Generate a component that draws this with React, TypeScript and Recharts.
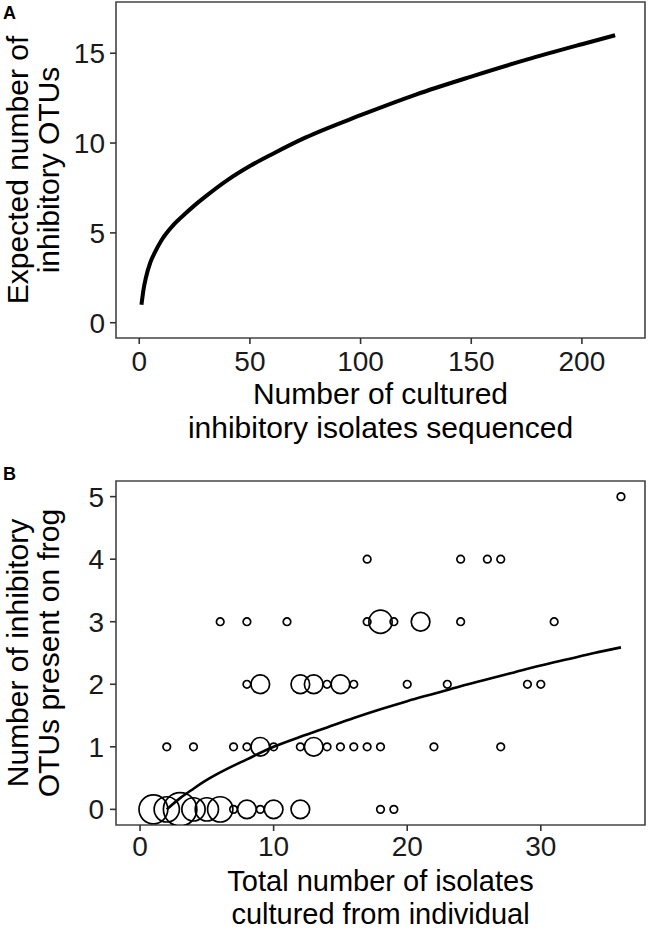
import React from 'react';
import { ComposedChart, Line, Scatter, XAxis, YAxis, ZAxis, ReferenceArea } from 'recharts';

const FONT = '"Liberation Sans", Arial, Helvetica, sans-serif';

// ---- Panel A: rarefaction curve ----
const isolatesSequenced = [1, 2, 3, 5, 7, 10, 15, 20, 25, 30, 40, 50, 60, 75, 100, 125, 150, 175, 200, 215];
const expectedOTUs = [1.0, 1.9, 2.5, 3.35, 3.9, 4.58, 5.38, 5.98, 6.53, 7.03, 7.95, 8.72, 9.38, 10.3, 11.55, 12.7, 13.7, 14.64, 15.5, 16.0];
const aXTicks = [0, 50, 100, 150, 200];
const aYTicks = [0, 5, 10, 15];
const aXDomain = [-10.5, 228.5];
const aYDomain = [-0.85, 17.85];

// ---- Panel B: per-frog points ----
const isolatesCultured = [
  36,
  17, 24, 26, 27,
  6, 8, 11, 17, 18, 19, 21, 24, 31,
  8, 9, 12, 13, 14, 15, 16, 20, 23, 29, 30,
  2, 4, 7, 8, 9, 10, 12, 13, 14, 15, 16, 17, 18, 22, 27,
  1, 2, 3, 4, 5, 6, 7, 8, 9, 10, 12, 18, 19,
];
const otusPresent = [
  5,
  4, 4, 4, 4,
  3, 3, 3, 3, 3, 3, 3, 3, 3,
  2, 2, 2, 2, 2, 2, 2, 2, 2, 2, 2,
  1, 1, 1, 1, 1, 1, 1, 1, 1, 1, 1, 1, 1, 1, 1,
  0, 0, 0, 0, 0, 0, 0, 0, 0, 0, 0, 0, 0,
];
const frogCount = [
  1,
  1, 1, 1, 1,
  1, 1, 1, 1, 6, 1, 4, 1, 1,
  1, 4, 4, 4, 1, 4, 1, 1, 1, 1, 1,
  1, 1, 1, 1, 4, 1, 1, 4, 1, 1, 1, 1, 1, 1, 1,
  9, 7, 12, 6, 6, 7, 1, 4, 1, 4, 4, 1, 1,
];
const fitIsolates = [2, 3, 4, 5, 6, 8, 10, 12, 14, 16, 18, 20, 22, 24, 26, 28, 30, 32, 34, 36];
const fitOTUs = [0, 0.18, 0.33, 0.47, 0.59, 0.8, 1.0, 1.16, 1.31, 1.46, 1.6, 1.73, 1.85, 1.97, 2.08, 2.19, 2.3, 2.4, 2.5, 2.59];
const bXTicks = [0, 10, 20, 30];
const bYTicks = [0, 1, 2, 3, 4, 5];
const bXDomain = [-1.8, 37.8];
const bYDomain = [-0.25, 5.25];

const curveA = isolatesSequenced.map((x, i) => ({ x, y: expectedOTUs[i] }));
const pointsB = isolatesCultured.map((x, i) => ({ x, y: otusPresent[i], n: frogCount[i] }));
const curveB = fitIsolates.map((x, i) => ({ x, y: fitOTUs[i] }));

const tickStyle = { fill: '#1a1a1a', fontSize: 28, fontFamily: FONT };
const tickLine = { stroke: '#333', strokeWidth: 1.6 };

const XTitle = (props: any) => {
  const vb = props.viewBox || {};
  const cx = vb.x + vb.width / 2;
  return (
    <text textAnchor="middle" fill="#000" fontSize={props.fontSize || 30} fontFamily={FONT}>
      {props.lines.map((l: string, i: number) => (
        <tspan key={i} x={cx} y={vb.y + props.offsets[i]}>{l}</tspan>
      ))}
    </text>
  );
};

const YTitle = (props: any) => {
  const vb = props.viewBox || {};
  const cy = vb.y + vb.height / 2;
  return (
    <g>
      {props.lines.map((l: string, i: number) => {
        const x = vb.x + props.offsets[i];
        return (
          <text key={i} x={x} y={cy} transform={`rotate(-90, ${x}, ${cy})`} textAnchor="middle" fill="#000" fontSize={30} fontFamily={FONT}>
            {l}
          </text>
        );
      })}
      <text x={vb.x + 3} y={props.letterY} fontSize={18} fontWeight="bold" fontFamily={FONT} fill="#000">{props.letter}</text>
    </g>
  );
};

export default function App() {
  return (
    <div style={{ position: 'absolute', left: 0, top: 0, width: 649, height: 931, background: '#fff' }}>
      <div style={{ position: 'absolute', left: 0, top: 0 }}>
        <ComposedChart width={649} height={460} data={curveA} margin={{ top: 2, right: 4, left: 0, bottom: 0 }}>
          <XAxis
            dataKey="x"
            type="number"
            domain={aXDomain}
            ticks={aXTicks}
            allowDataOverflow
            axisLine={false}
            tickLine={tickLine}
            tickSize={6}
            tickMargin={7}
            tick={tickStyle}
            height={122}
            label={{ content: (p: any) => <XTitle viewBox={p.viewBox} lines={['Number of cultured', 'inhibitory isolates sequenced']} offsets={[66, 100]} /> }}
          />
          <YAxis
            dataKey="y"
            type="number"
            domain={aYDomain}
            ticks={aYTicks}
            allowDataOverflow
            axisLine={false}
            tickLine={tickLine}
            tickSize={6}
            tickMargin={5}
            tick={tickStyle}
            width={116}
            label={{ content: (p: any) => <YTitle viewBox={p.viewBox} lines={['Expected number of', 'inhibitory OTUs']} offsets={[28, 59]} letter="A" letterY={19} /> }}
          />
          <Line dataKey="y" type="monotone" stroke="#000" strokeWidth={4} dot={false} isAnimationActive={false} />
          <ReferenceArea x1={aXDomain[0]} x2={aXDomain[1]} y1={aYDomain[0]} y2={aYDomain[1]} fill="none" stroke="#444" strokeWidth={1.6} ifOverflow="visible" />
        </ComposedChart>
      </div>
      <div style={{ position: 'absolute', left: 0, top: 460 }}>
        <ComposedChart width={649} height={471} margin={{ top: 21, right: 4, left: 0, bottom: 0 }}>
          <XAxis
            dataKey="x"
            type="number"
            domain={bXDomain}
            ticks={bXTicks}
            allowDataOverflow
            axisLine={false}
            tickLine={tickLine}
            tickSize={6}
            tickMargin={5}
            tick={tickStyle}
            height={106}
            label={{ content: (p: any) => <XTitle viewBox={p.viewBox} fontSize={29} lines={['Total number of isolates', 'cultured from individual']} offsets={[66, 99]} /> }}
          />
          <YAxis
            dataKey="y"
            type="number"
            domain={bYDomain}
            ticks={bYTicks}
            allowDataOverflow
            axisLine={false}
            tickLine={tickLine}
            tickSize={6}
            tickMargin={6}
            tick={tickStyle}
            width={116}
            label={{ content: (p: any) => <YTitle viewBox={p.viewBox} lines={['Number of inhibitory', 'OTUs present on frog']} offsets={[28, 59]} letter="B" letterY={20} /> }}
          />
          <ZAxis dataKey="n" type="number" domain={[1, 12]} range={[45, 880]} />
          <Scatter data={pointsB} fill="none" stroke="#000" strokeWidth={1.7} isAnimationActive={false} />
          <Line data={curveB} dataKey="y" type="monotone" stroke="#000" strokeWidth={2.6} dot={false} isAnimationActive={false} />
          <ReferenceArea x1={bXDomain[0]} x2={bXDomain[1]} y1={bYDomain[0]} y2={bYDomain[1]} fill="none" stroke="#444" strokeWidth={1.6} ifOverflow="visible" />
        </ComposedChart>
      </div>
    </div>
  );
}
